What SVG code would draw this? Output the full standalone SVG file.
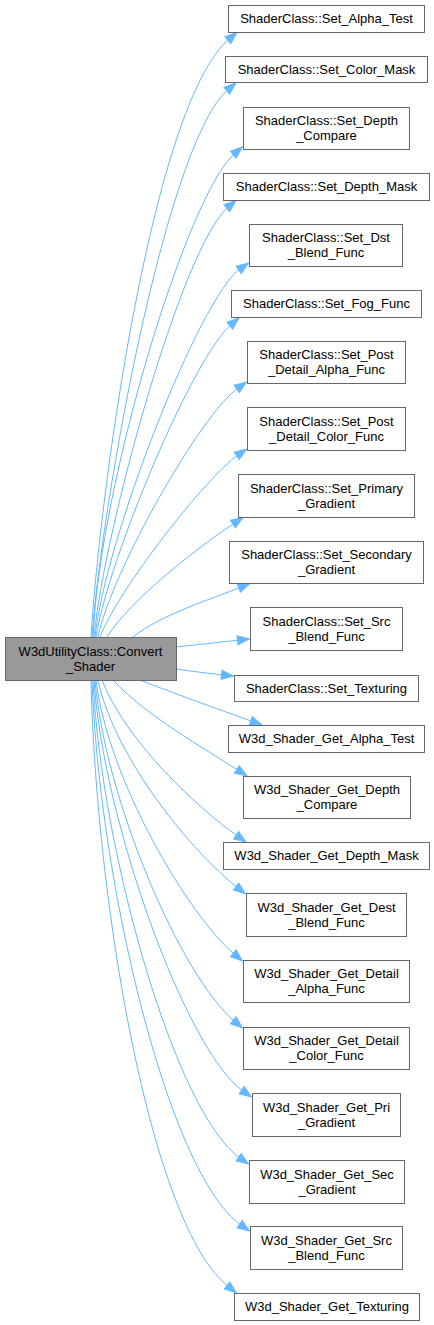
<svg xmlns="http://www.w3.org/2000/svg" width="434" height="1325" viewBox="0 0 434 1325">
<style>
rect{fill:#ffffff;stroke:#666666;stroke-width:1}
#main rect{fill:#999999}
text{font-family:"Liberation Sans",Arial,sans-serif;font-size:13px;text-anchor:middle;fill:#000000}
.e{fill:none;stroke:#63b8ff;stroke-width:1;marker-end:url(#ah)}
</style>
<defs>
<marker id="ah" markerWidth="13" markerHeight="10" refX="2" refY="4.5" orient="auto" markerUnits="userSpaceOnUse" overflow="visible">
<path d="M0,0 L12,4.5 L0,9 Z" fill="#63b8ff" stroke="#63b8ff" stroke-width="1"/>
</marker>
</defs>
<rect x="0" y="0" width="434" height="1325" style="fill:#ffffff;stroke:none"/>
<g id="connectors">
<path class="e" d="M91,637 C100,490 152.7,103.2 229.3,38.9"/>
<path class="e" d="M92,637 C102,500 167,140.8 228.3,89.4"/>
<path class="e" d="M93,637 C100,480 188.8,192 234.8,153.4"/>
<path class="e" d="M94,637 C104,530 182.3,245.5 228.3,206.9"/>
<path class="e" d="M95,637 C105,540 199.4,297.4 240.3,268.7"/>
<path class="e" d="M96,637 C108,560 193,356.6 231.3,324.4"/>
<path class="e" d="M98,637 C112,570 201.5,413.5 238.3,387.7"/>
<path class="e" d="M100,637 C118,590 205.5,477.7 238.3,454.7"/>
<path class="e" d="M107,637 C130,600 201,544.8 234.6,523"/>
<path class="e" d="M133,637 C160,615 212.9,598.5 240.7,587.3"/>
<path class="e" d="M176,647 C195,645 220,642.1 239.5,640"/>
<path class="e" d="M176,669 C190,671 210,673.6 223.5,675"/>
<path class="e" d="M140,680 C170,692 215,707.9 252.6,721.6"/>
<path class="e" d="M113,680 C145,715 205,748.8 238.6,770.6"/>
<path class="e" d="M102,680 C125,740 196.9,807.6 237.8,836.3"/>
<path class="e" d="M98,680 C115,760 194.3,853.9 237.6,887.8"/>
<path class="e" d="M96,680 C108,780 188.8,916 234.8,954.6"/>
<path class="e" d="M95,680 C105,800 181.2,976.6 234.8,1021.6"/>
<path class="e" d="M94,680 C103,820 186,1051.1 243.3,1091.3"/>
<path class="e" d="M93,680 C101,850 174.8,1112.4 240.3,1158.3"/>
<path class="e" d="M92,680 C99,880 167.6,1173.6 241.3,1225.3"/>
<path class="e" d="M91,680 C96,900 149.8,1225.2 228.6,1286.8"/>
</g>
<g id="main"><rect x="5.5" y="637.5" width="171" height="43"/><text x="90.5" y="655.5">W3dUtilityClass::Convert</text><text x="90.5" y="670.5">_Shader</text></g>
<g id="n1"><rect x="228.5" y="5.5" width="196" height="27"/><text x="326.5" y="23">ShaderClass::Set_Alpha_Test</text></g>
<g id="n2"><rect x="225.5" y="56.5" width="202" height="26"/><text x="326.5" y="73.5">ShaderClass::Set_Color_Mask</text></g>
<g id="n3"><rect x="243.5" y="107.5" width="166" height="42"/><text x="326.5" y="125">ShaderClass::Set_Depth</text><text x="326.5" y="140">_Compare</text></g>
<g id="n4"><rect x="223.5" y="173.5" width="206" height="27"/><text x="326.5" y="191">ShaderClass::Set_Depth_Mask</text></g>
<g id="n5"><rect x="249.5" y="224.5" width="153" height="42"/><text x="326" y="242">ShaderClass::Set_Dst</text><text x="326" y="257">_Blend_Func</text></g>
<g id="n6"><rect x="231.5" y="290.5" width="190" height="27"/><text x="326.5" y="308">ShaderClass::Set_Fog_Func</text></g>
<g id="n7"><rect x="247.5" y="341.5" width="158" height="42"/><text x="326.5" y="359">ShaderClass::Set_Post</text><text x="326.5" y="374">_Detail_Alpha_Func</text></g>
<g id="n8"><rect x="247.5" y="407.5" width="158" height="43"/><text x="326.5" y="425.5">ShaderClass::Set_Post</text><text x="326.5" y="440.5">_Detail_Color_Func</text></g>
<g id="n9"><rect x="238.5" y="474.5" width="176" height="43"/><text x="326.5" y="492.5">ShaderClass::Set_Primary</text><text x="326.5" y="507.5">_Gradient</text></g>
<g id="n10"><rect x="229.5" y="541.5" width="194" height="42"/><text x="326.5" y="559">ShaderClass::Set_Secondary</text><text x="326.5" y="574">_Gradient</text></g>
<g id="n11"><rect x="250.5" y="607.5" width="152" height="43"/><text x="326.5" y="625.5">ShaderClass::Set_Src</text><text x="326.5" y="640.5">_Blend_Func</text></g>
<g id="n12"><rect x="234.5" y="675.5" width="184" height="26"/><text x="326.5" y="692.5">ShaderClass::Set_Texturing</text></g>
<g id="n13"><rect x="228.5" y="725.5" width="196" height="27"/><text x="326.5" y="743">W3d_Shader_Get_Alpha_Test</text></g>
<g id="n14"><rect x="243.5" y="776.5" width="167" height="42"/><text x="327" y="794">W3d_Shader_Get_Depth</text><text x="327" y="809">_Compare</text></g>
<g id="n15"><rect x="223.5" y="842.5" width="206" height="27"/><text x="326.5" y="860">W3d_Shader_Get_Depth_Mask</text></g>
<g id="n16"><rect x="246.5" y="893.5" width="160" height="43"/><text x="326.5" y="911.5">W3d_Shader_Get_Dest</text><text x="326.5" y="926.5">_Blend_Func</text></g>
<g id="n17"><rect x="243.5" y="960.5" width="166" height="42"/><text x="326.5" y="978">W3d_Shader_Get_Detail</text><text x="326.5" y="993">_Alpha_Func</text></g>
<g id="n18"><rect x="243.5" y="1027.5" width="166" height="42"/><text x="326.5" y="1045">W3d_Shader_Get_Detail</text><text x="326.5" y="1060">_Color_Func</text></g>
<g id="n19"><rect x="252.5" y="1093.5" width="148" height="43"/><text x="326.5" y="1111.5">W3d_Shader_Get_Pri</text><text x="326.5" y="1126.5">_Gradient</text></g>
<g id="n20"><rect x="249.5" y="1160.5" width="155" height="43"/><text x="327" y="1178.5">W3d_Shader_Get_Sec</text><text x="327" y="1193.5">_Gradient</text></g>
<g id="n21"><rect x="250.5" y="1226.5" width="152" height="43"/><text x="326.5" y="1244.5">W3d_Shader_Get_Src</text><text x="326.5" y="1259.5">_Blend_Func</text></g>
<g id="n22"><rect x="234.5" y="1293.5" width="185" height="27"/><text x="327" y="1311">W3d_Shader_Get_Texturing</text></g>
</svg>
